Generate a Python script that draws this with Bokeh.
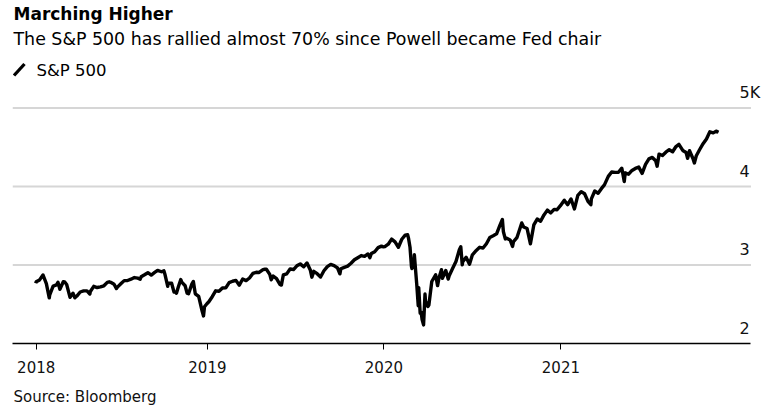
import pandas as pd
from bokeh.plotting import figure
from bokeh.models import (Range1d, FixedTicker, DatetimeTickFormatter, Label, Arrow,
                          ColumnDataSource, Title)
from bokeh.embed import file_html
from bokeh.resources import INLINE

# ---------------- data (S&P 500 closes) ----------------
dates_2018 = ["2018-01-11", "2018-01-12", "2018-01-19", "2018-01-26", "2018-02-02", "2018-02-08",
              "2018-02-09", "2018-02-16", "2018-02-23", "2018-02-26", "2018-03-02", "2018-03-09",
              "2018-03-12", "2018-03-16", "2018-03-23", "2018-03-29", "2018-04-02", "2018-04-06",
              "2018-04-13", "2018-04-20", "2018-04-27", "2018-05-03", "2018-05-04", "2018-05-11",
              "2018-05-18", "2018-05-25", "2018-06-01", "2018-06-08", "2018-06-12", "2018-06-15",
              "2018-06-22", "2018-06-27", "2018-06-29", "2018-07-06", "2018-07-13", "2018-07-20",
              "2018-07-27", "2018-08-03", "2018-08-10", "2018-08-15", "2018-08-17", "2018-08-24",
              "2018-08-31", "2018-09-07", "2018-09-14", "2018-09-20", "2018-09-28", "2018-10-03",
              "2018-10-05", "2018-10-11", "2018-10-12", "2018-10-19", "2018-10-24", "2018-10-26",
              "2018-10-29", "2018-11-02", "2018-11-07", "2018-11-09", "2018-11-16", "2018-11-20",
              "2018-11-23", "2018-11-30", "2018-12-03", "2018-12-07", "2018-12-14", "2018-12-21",
              "2018-12-24", "2018-12-26", "2018-12-31"]
close_2018 = [2767, 2786, 2810, 2873, 2762, 2581,
              2620, 2732, 2747, 2780, 2691, 2786,
              2783, 2752, 2588, 2641, 2582, 2604,
              2656, 2670, 2670, 2630, 2663, 2728,
              2713, 2721, 2735, 2779, 2786, 2780,
              2755, 2700, 2718, 2760, 2801, 2802,
              2819, 2840, 2833, 2819, 2850, 2875,
              2902, 2872, 2905, 2931, 2914, 2926,
              2886, 2728, 2767, 2768, 2656, 2658,
              2641, 2723, 2814, 2781, 2736, 2641,
              2633, 2760, 2790, 2633, 2600, 2417,
              2351, 2468, 2507]

dates_2019 = ["2019-01-04", "2019-01-11", "2019-01-18", "2019-01-25", "2019-02-01", "2019-02-08",
              "2019-02-15", "2019-02-22", "2019-03-01", "2019-03-08", "2019-03-15", "2019-03-22",
              "2019-03-29", "2019-04-05", "2019-04-12", "2019-04-18", "2019-04-26", "2019-04-30",
              "2019-05-03", "2019-05-10", "2019-05-13", "2019-05-17", "2019-05-24", "2019-05-31",
              "2019-06-03", "2019-06-07", "2019-06-14", "2019-06-21", "2019-06-28", "2019-07-05",
              "2019-07-12", "2019-07-19", "2019-07-26", "2019-08-02", "2019-08-05", "2019-08-09",
              "2019-08-16", "2019-08-23", "2019-08-30", "2019-09-06", "2019-09-13", "2019-09-20",
              "2019-09-27", "2019-10-02", "2019-10-04", "2019-10-11", "2019-10-18", "2019-10-25",
              "2019-11-01", "2019-11-08", "2019-11-15", "2019-11-22", "2019-11-29", "2019-12-03",
              "2019-12-06", "2019-12-13", "2019-12-20", "2019-12-27", "2019-12-31"]
close_2019 = [2532, 2596, 2671, 2665, 2707, 2708,
              2776, 2793, 2804, 2743, 2822, 2801,
              2834, 2893, 2907, 2905, 2940, 2946,
              2946, 2881, 2812, 2860, 2826, 2752,
              2744, 2873, 2887, 2950, 2942, 2990,
              3014, 2977, 3026, 2932, 2845, 2919,
              2889, 2847, 2926, 2979, 3007, 2992,
              2962, 2887, 2952, 2970, 2986, 3023,
              3067, 3093, 3120, 3110, 3141, 3093,
              3146, 3169, 3221, 3240, 3231]

dates_2020 = ["2020-01-03", "2020-01-10", "2020-01-17", "2020-01-24", "2020-01-31", "2020-02-07",
              "2020-02-14", "2020-02-19", "2020-02-21", "2020-02-24", "2020-02-27", "2020-02-28",
              "2020-03-03", "2020-03-04", "2020-03-06", "2020-03-09", "2020-03-12", "2020-03-13",
              "2020-03-16", "2020-03-18", "2020-03-20", "2020-03-23", "2020-03-26", "2020-03-27",
              "2020-04-01", "2020-04-03", "2020-04-09", "2020-04-17", "2020-04-21", "2020-04-24",
              "2020-04-29", "2020-05-01", "2020-05-08", "2020-05-13", "2020-05-15", "2020-05-22",
              "2020-05-29", "2020-06-05", "2020-06-08", "2020-06-11", "2020-06-12", "2020-06-19",
              "2020-06-26", "2020-07-02", "2020-07-10", "2020-07-17", "2020-07-24", "2020-07-31",
              "2020-08-07", "2020-08-14", "2020-08-21", "2020-08-28", "2020-09-02", "2020-09-04",
              "2020-09-08", "2020-09-11", "2020-09-18", "2020-09-23", "2020-09-25", "2020-10-02",
              "2020-10-09", "2020-10-12", "2020-10-16", "2020-10-23", "2020-10-30", "2020-11-06",
              "2020-11-13", "2020-11-20", "2020-11-27", "2020-12-04", "2020-12-11", "2020-12-18",
              "2020-12-24", "2020-12-31"]
close_2020 = [3235, 3265, 3330, 3295, 3226, 3328,
              3380, 3386, 3338, 3226, 2979, 2954,
              3003, 3130, 2972, 2747, 2481, 2711,
              2386, 2398, 2305, 2237, 2630, 2541,
              2471, 2489, 2790, 2875, 2737, 2837,
              2940, 2831, 2930, 2820, 2864, 2955,
              3044, 3194, 3232, 3002, 3041, 3098,
              3009, 3130, 3185, 3225, 3216, 3271,
              3351, 3373, 3397, 3508, 3580, 3427,
              3332, 3341, 3319, 3237, 3298, 3348,
              3477, 3535, 3484, 3465, 3270, 3510,
              3585, 3558, 3638, 3699, 3663, 3709,
              3703, 3756]

dates_2021 = ["2021-01-08", "2021-01-15", "2021-01-22", "2021-01-29", "2021-02-05", "2021-02-12",
              "2021-02-19", "2021-02-26", "2021-03-04", "2021-03-05", "2021-03-12", "2021-03-19",
              "2021-03-26", "2021-04-01", "2021-04-09", "2021-04-16", "2021-04-23", "2021-04-30",
              "2021-05-07", "2021-05-12", "2021-05-14", "2021-05-21", "2021-05-28", "2021-06-04",
              "2021-06-11", "2021-06-18", "2021-06-25", "2021-07-02", "2021-07-09", "2021-07-16",
              "2021-07-19", "2021-07-23", "2021-07-30", "2021-08-06", "2021-08-13", "2021-08-20",
              "2021-08-27", "2021-09-02", "2021-09-10", "2021-09-17", "2021-09-20", "2021-09-24",
              "2021-10-01", "2021-10-04", "2021-10-08", "2021-10-15", "2021-10-22", "2021-10-29",
              "2021-11-05", "2021-11-12", "2021-11-18", "2021-11-23"]
close_2021 = [3825, 3768, 3841, 3714, 3887, 3934,
              3907, 3811, 3768, 3842, 3943, 3913,
              3975, 4020, 4129, 4185, 4180, 4181,
              4233, 4063, 4174, 4156, 4204, 4230,
              4247, 4167, 4281, 4352, 4370, 4327,
              4258, 4412, 4395, 4437, 4468, 4442,
              4509, 4537, 4459, 4433, 4358, 4455,
              4357, 4300, 4391, 4471, 4545, 4605,
              4697, 4683, 4705, 4691]

ytick_values = [2000, 3000, 4000, 5000]
ytick_labels = ["2", "3", "4", "5K"]
grid_values = [3000, 4000, 5000]
xtick_dates = ["2018-01-12", "2019-01-01", "2020-01-01", "2021-01-01"]

x_start = "2017-11-24"          # left edge of the plot
x_axis_end = "2022-01-29"       # where the axis line and grid lines stop
x_view_end = "2022-03-10 10:00" # right edge of the canvas area (room for "5K")

title_text = "Marching Higher"
subtitle_text = "The S&P 500 has rallied almost 70% since Powell became Fed chair"
legend_text = "S&P 500"
source_text = "Source: Bloomberg"

FONT = "DejaVu Sans"

dates = pd.to_datetime(dates_2018 + dates_2019 + dates_2020 + dates_2021)
closes = close_2018 + close_2019 + close_2020 + close_2021
src = ColumnDataSource(data=dict(date=dates, close=closes))

p = figure(width=776, height=419, x_axis_type="datetime",
           x_range=Range1d(pd.Timestamp(x_start), pd.Timestamp(x_view_end)),
           y_range=Range1d(2000, 6369),
           title=None, toolbar_location=None, output_backend="svg",
           y_axis_location=None,
           min_border_left=12, min_border_right=6, min_border_top=0, min_border_bottom=76)
p.outline_line_color = None
p.background_fill_color = "white"
p.border_fill_color = "white"
p.xgrid.visible = False
p.ygrid.visible = False

# horizontal grid lines, stopping where the axis stops
gsrc = ColumnDataSource(data=dict(
    x0=[pd.Timestamp(x_start)] * len(grid_values),
    x1=[pd.Timestamp(x_axis_end)] * len(grid_values),
    y=grid_values))
p.segment(x0="x0", x1="x1", y0="y", y1="y", source=gsrc,
          line_color="#d6d6d6", line_width=1.8)

p.line(x="date", y="close", source=src, line_color="black", line_width=3.4,
       line_join="round")

# x axis
ax = p.xaxis[0]
ax.bounds = (pd.Timestamp(x_start), pd.Timestamp(x_axis_end))
ax.ticker = FixedTicker(ticks=[pd.Timestamp(d).value // 10**6 for d in xtick_dates])
fmt = "%Y"
ax.formatter = DatetimeTickFormatter(milliseconds=fmt, seconds=fmt, minsec=fmt, minutes=fmt,
                                     hourmin=fmt, hours=fmt, days=fmt, months=fmt, years=fmt)
ax.axis_line_color = "black"
ax.axis_line_width = 1.6
ax.major_tick_line_color = "black"
ax.major_tick_line_width = 1
ax.major_tick_out = 6
ax.major_tick_in = 0
ax.minor_tick_line_color = None
ax.major_label_standoff = 11
ax.major_label_text_font = FONT
ax.major_label_text_font_size = "15px"
ax.major_label_text_color = "#111111"

# y tick labels (inside, right, above grid lines)
for v, lab in zip(ytick_values, ytick_labels):
    p.add_layout(Label(x=727, x_units="screen", y=v, y_units="data", y_offset=15.5,
                       text=lab, text_font=FONT, text_font_size="16px",
                       text_color="#111111", text_align="left", text_baseline="alphabetic"))

# title, subtitle, legend
p.add_layout(Label(x=1, y=330, x_units="screen", y_units="screen", text=title_text,
                   text_font=FONT, text_font_size="17px", text_font_style="bold",
                   text_color="black", text_baseline="alphabetic"))
p.add_layout(Label(x=1, y=304.5, x_units="screen", y_units="screen", text=subtitle_text,
                   text_font=FONT, text_font_size="17.4px",
                   text_color="black", text_baseline="alphabetic"))
p.add_layout(Label(x=24, y=273, x_units="screen", y_units="screen", text=legend_text,
                   text_font=FONT, text_font_size="16.5px",
                   text_color="black", text_baseline="alphabetic"))
p.add_layout(Arrow(end=None, x_start=1.5, y_start=268, x_end=12, y_end=279.5,
                   start_units="screen", end_units="screen",
                   line_color="black", line_width=3.3))

# source line below the axis
p.add_layout(Title(text=source_text, align="left", text_font=FONT, text_font_size="15px",
                   text_font_style="normal", text_color="#111111", offset=1, standoff=21),
             "below")

open("out.html", "w").write(file_html(p, INLINE))
